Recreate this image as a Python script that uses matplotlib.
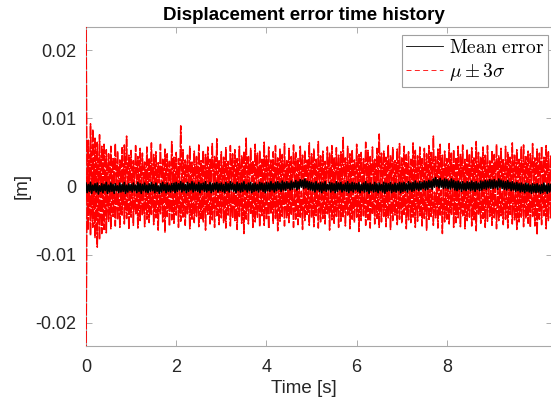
import numpy as np
import matplotlib
matplotlib.use("Agg")
import matplotlib.pyplot as plt

plt.rcParams["font.family"] = ["Liberation Sans", "DejaVu Sans"]
plt.rcParams["mathtext.fontset"] = "cm"

# Data (values in mm; one peak + one trough per 0.05 s)
dt = 0.05

upper_peaks = [
    25.0, 6.8, 9.2, 8.4, 7.1, 6.5, 7.6, 5.9, 6.2, 5.4,
    4.8, 5.9, 4.1, 6.3, 5.2, 3.9, 5.7, 6.1, 7.4, 4.6,
    5.3, 3.8, 6.0, 4.4, 5.6, 4.9, 3.6, 5.8, 4.2, 6.4,
    4.7, 5.1, 3.5, 6.2, 4.0, 5.5, 4.8, 3.7, 6.6, 4.3,
    5.0, 4.1, 8.9, 5.4, 3.9, 4.6, 5.9, 3.6, 5.2, 4.4,
    6.1, 3.8, 5.3, 4.7, 5.8, 4.0, 6.3, 4.5, 7.0, 3.9,
    5.1, 4.3, 5.7, 3.7, 6.0, 4.8, 5.4, 4.1, 5.9, 4.6,
    5.2, 7.1, 4.4, 5.6, 3.8, 6.2, 4.9, 5.3, 4.0, 6.5,
    4.5, 5.8, 3.9, 5.1, 6.0, 4.2, 5.5, 4.7, 6.3, 3.8,
    5.6, 4.4, 6.1, 5.0, 4.1, 5.9, 4.6, 5.3, 3.9, 6.4,
    4.8, 5.5, 4.0, 6.6, 4.5, 5.2, 3.7, 5.8, 4.9, 6.0,
    4.3, 5.7, 4.6, 5.1, 7.2, 4.2, 5.9, 4.8, 5.4, 3.9,
    6.2, 4.7, 5.0, 4.1, 6.5, 5.3, 4.4, 5.8, 4.0, 5.6,
    7.7, 4.9, 5.2, 4.3, 6.1, 4.6, 5.7, 3.8, 5.5, 6.3,
    4.2, 5.9, 4.7, 5.1, 4.0, 6.4, 5.3, 4.5, 5.8, 4.1,
    5.6, 4.8, 6.0, 5.0, 7.4, 4.4, 5.5, 6.2, 4.6, 5.2,
    4.1, 6.3, 4.9, 5.4, 4.3, 5.9, 4.7, 6.1, 4.0, 5.5,
    4.8, 5.7, 4.2, 6.6, 5.0, 4.4, 5.8, 4.6, 6.0, 3.9,
    5.3, 4.7, 6.2, 4.5, 5.6, 4.1, 5.9, 5.0, 4.3, 6.4,
    4.6, 5.4, 4.0, 5.8, 6.1, 4.4, 5.2, 4.8, 6.3, 4.2,
    5.5, 4.9, 5.9, 4.3, 6.0, 5.1, 4.6, 5.7, 7.2, 4.8,
]
upper_troughs = [
    -1.8, -2.6, -1.2, -3.1, -0.9, -2.2, -1.6, -0.4, -2.4, -1.1,
    -0.6, -1.7, 0.3, -1.3, -0.8, 0.5, -1.9, -0.2, -1.0, 0.6,
    -1.4, -0.3, 0.4, -1.6, -0.7, 0.2, -1.2, -0.5, 0.7, -1.8,
    -0.1, -1.1, 0.5, -0.9, -1.5, 0.1, -0.6, -1.3, 0.4, -0.8,
    -1.7, 0.3, -0.4, -1.0, 0.6, -1.4, -0.2, -0.9, 0.2, -1.6,
    -0.5, 0.4, -1.2, -0.3, -1.8, 0.5, -0.7, -1.1, 0.1, -0.6,
    -1.5, 0.3, -0.8, -1.3, 0.6, -0.4, -1.0, 0.2, -1.7, -0.1,
    0.4, -1.2, -0.5, 0.7, -1.4, -0.2, -0.9, 0.3, -1.6, -0.6,
    0.5, -1.1, -0.3, -1.5, 0.2, -0.8, 0.6, -1.3, -0.4, 0.1,
    -1.7, -0.5, 0.4, -1.0, -0.2, 0.7, -1.4, -0.7, 0.3, -1.2,
    -0.1, 0.5, -1.6, -0.6, 0.2, -1.1, -0.3, 0.6, -0.9, -1.5,
    0.3, -0.4, -1.2, 0.1, -0.8, 0.5, -1.4, -0.2, 0.4, -1.0,
    -0.6, 0.7, -1.3, -0.1, 0.3, -1.7, -0.5, 0.2, -0.9, 0.6,
    -1.1, -0.3, 0.4, -1.5, -0.7, 0.1, -1.0, 0.5, -0.4, -1.3,
    0.2, -0.8, 0.6, -1.2, -0.2, 0.3, -1.6, -0.5, 0.7, -0.9,
    -0.1, -1.4, 0.4, -0.6, 0.8, -1.1, -0.3, 0.5, -1.2, 0.2,
    -0.7, 0.6, -1.5, -0.2, 0.3, -0.9, 0.7, -1.3, -0.4, 0.1,
    -1.0, 0.4, -0.6, -1.4, 0.5, -0.3, 0.2, -1.1, -0.5, 0.6,
    -1.6, -0.1, 0.3, -0.8, 0.7, -1.2, -0.4, 0.1, -1.5, -0.6,
    0.4, -0.9, 0.2, -1.3, -0.2, 0.6, -1.0, -0.5, 0.3, -1.4,
    -0.7, 0.1, -1.1, 0.5, -0.3, -1.6, 0.2, -0.8, 0.4, -1.2,
]
lower_peaks = [
    -25.0, -6.4, -7.2, -6.0, -7.5, -8.9, -7.8, -6.9, -6.3, -6.8,
    -5.1, -6.2, -4.4, -5.8, -4.9, -6.0, -4.2, -5.5, -4.7, -6.3,
    -4.5, -5.7, -4.0, -6.1, -5.0, -4.3, -5.9, -4.8, -5.3, -4.1,
    -5.6, -4.6, -6.4, -4.0, -5.2, -6.7, -4.4, -5.8, -4.9, -5.4,
    -4.2, -6.0, -5.1, -4.5, -5.7, -4.0, -6.2, -4.8, -5.3, -4.4,
    -5.9, -4.7, -5.2, -6.4, -4.1, -5.5, -4.9, -6.0, -4.3, -5.6,
    -4.6, -5.3, -6.1, -4.2, -5.8, -4.7, -5.0, -6.3, -4.4, -5.4,
    -6.9, -4.8, -5.5, -4.1, -6.0, -5.2, -4.5, -5.9, -4.3, -5.7,
    -4.9, -6.2, -4.0, -5.4, -4.7, -6.5, -5.1, -4.4, -5.8, -4.6,
    -5.3, -4.2, -6.0, -4.8, -5.6, -4.5, -6.3, -5.0, -4.1, -5.7,
    -4.6, -5.9, -4.3, -6.1, -5.2, -4.7, -5.5, -4.0, -6.4, -4.9,
    -5.4, -4.4, -6.0, -5.1, -4.6, -5.8, -4.2, -6.2, -4.8, -5.3,
    -4.5, -6.6, -5.0, -4.3, -5.7, -4.9, -6.1, -4.1, -5.5, -4.7,
    -6.0, -5.2, -4.4, -5.9, -4.6, -6.3, -5.0, -4.2, -5.6, -4.8,
    -5.4, -4.1, -6.2, -4.9, -5.3, -4.5, -6.0, -5.1, -4.3, -5.8,
    -4.7, -6.4, -5.0, -4.4, -5.7, -4.6, -6.1, -4.2, -6.9, -5.2,
    -4.8, -5.5, -4.1, -6.0, -5.3, -4.6, -5.9, -4.3, -6.2, -5.0,
    -4.5, -5.8, -4.9, -6.5, -4.2, -5.4, -4.7, -6.0, -5.1, -4.4,
    -5.7, -4.6, -6.2, -5.0, -4.3, -5.6, -4.8, -6.1, -4.1, -5.5,
    -4.9, -6.3, -5.2, -4.5, -5.9, -4.7, -5.4, -6.0, -4.4, -5.8,
    -7.1, -4.8, -5.6, -4.3, -6.2, -5.0, -4.6, -5.7, -4.9, -6.1,
]
lower_troughs = [
    1.4, 2.3, 1.0, 2.7, 0.8, 1.9, 1.2, 0.5, 2.1, 0.9,
    0.4, 1.6, -0.3, 1.2, 0.7, -0.5, 1.8, 0.2, 1.0, -0.6,
    1.3, 0.3, -0.4, 1.5, 0.6, -0.2, 1.1, 0.4, -0.7, 1.7,
    0.1, 1.0, -0.5, 0.8, 1.4, -0.1, 0.5, 1.2, -0.4, 0.7,
    1.6, -0.3, 0.3, 0.9, -0.6, 1.3, 0.2, 0.8, -0.2, 1.5,
    0.4, -0.4, 1.1, 0.2, 1.7, -0.5, 0.6, 1.0, -0.1, 0.5,
    1.4, -0.3, 0.7, 1.2, -0.6, 0.3, 0.9, -0.2, 1.6, 0.0,
    -0.4, 1.1, 0.4, -0.7, 1.3, 0.1, 0.8, -0.3, 1.5, 0.5,
    -0.5, 1.0, 0.2, 1.4, -0.2, 0.7, -0.6, 1.2, 0.3, -0.1,
    1.6, 0.4, -0.4, 0.9, 0.1, -0.7, 1.3, 0.6, -0.3, 1.1,
    0.0, -0.5, 1.5, 0.5, -0.2, 1.0, 0.2, -0.6, 0.8, 1.4,
    -0.3, 0.3, 1.1, -0.1, 0.7, -0.5, 1.3, 0.1, -0.4, 0.9,
    0.5, -0.7, 1.2, 0.0, -0.3, 1.6, 0.4, -0.2, 0.8, -0.6,
    1.0, 0.2, -0.4, 1.4, 0.6, -0.1, 0.9, -0.5, 0.3, 1.2,
    -0.2, 0.7, -0.6, 1.1, 0.1, -0.3, 1.5, 0.4, -0.7, 0.8,
    0.0, 1.3, -0.4, 0.5, -0.8, 1.0, 0.2, -0.5, 1.1, -0.2,
    0.6, -0.6, 1.4, 0.1, -0.3, 0.8, -0.7, 1.2, 0.3, -0.1,
    0.9, -0.4, 0.5, 1.3, -0.5, 0.2, -0.2, 1.0, 0.4, -0.6,
    1.5, 0.0, -0.3, 0.7, -0.7, 1.1, 0.3, -0.1, 1.4, 0.5,
    -0.4, 0.8, -0.2, 1.2, 0.1, -0.6, 0.9, 0.4, -0.3, 1.3,
    0.6, -0.1, 1.0, -0.5, 0.2, 1.5, -0.2, 0.7, -0.4, 1.1,
]
mean_peaks = [
    0.5, 0.3, 0.6, 0.2, 0.4, 0.5, 0.1, 0.4, 0.3, 0.6,
    0.2, 0.5, 0.3, 0.4, 0.1, 0.5, 0.3, 0.6, 0.2, 0.4,
    0.3, 0.5, 0.2, 0.6, 0.4, 0.3, 0.5, 0.2, 0.4, 0.6,
    0.3, 0.5, 0.1, 0.4, 0.6, 0.3, 0.5, 0.2, 0.4, 0.5,
    0.6, 0.4, 0.7, 0.5, 0.3, 0.6, 0.4, 0.7, 0.5, 0.3,
    0.6, 0.4, 0.5, 0.7, 0.3, 0.6, 0.4, 0.5, 0.6, 0.4,
    0.5, 0.3, 0.6, 0.4, 0.7, 0.5, 0.3, 0.6, 0.4, 0.5,
    0.7, 0.3, 0.5, 0.6, 0.4, 0.5, 0.3, 0.6, 0.5, 0.4,
    0.6, 0.5, 0.7, 0.4, 0.6, 0.7, 0.5, 0.8, 0.6, 0.7,
    0.5, 0.8, 0.6, 0.9, 0.7, 1.0, 0.9, 1.1, 0.8, 0.7,
    0.6, 0.5, 0.7, 0.4, 0.6, 0.5, 0.7, 0.3, 0.6, 0.5,
    0.4, 0.7, 0.5, 0.6, 0.3, 0.5, 0.7, 0.4, 0.6, 0.5,
    0.4, 0.6, 0.3, 0.5, 0.7, 0.4, 0.5, 0.3, 0.6, 0.4,
    0.5, 0.3, 0.6, 0.5, 0.4, 0.6, 0.3, 0.5, 0.4, 0.6,
    0.5, 0.6, 0.4, 0.7, 0.5, 0.6, 0.8, 0.5, 0.7, 0.6,
    0.8, 0.7, 0.9, 0.8, 1.1, 1.3, 1.0, 1.2, 0.9, 1.1,
    1.0, 0.8, 1.1, 0.9, 0.7, 0.8, 0.6, 0.7, 0.5, 0.7,
    0.6, 0.8, 0.6, 0.7, 0.5, 0.8, 0.7, 0.9, 0.8, 1.0,
    0.9, 1.0, 0.8, 1.1, 0.9, 0.8, 0.7, 0.9, 0.6, 0.7,
    0.5, 0.6, 0.4, 0.5, 0.3, 0.5, 0.4, 0.2, 0.4, 0.3,
    0.4, 0.2, 0.3, 0.5, 0.2, 0.4, 0.3, 0.5, 0.2, 0.4,
]
mean_troughs = [
    -0.9, -0.7, -1.0, -0.6, -0.8, -1.1, -0.7, -0.9, -0.6, -1.0,
    -0.8, -0.7, -1.0, -0.6, -0.9, -0.8, -0.7, -1.0, -0.8, -0.6,
    -0.8, -0.6, -0.9, -0.7, -1.0, -0.6, -0.8, -0.9, -0.7, -0.6,
    -0.9, -0.7, -1.0, -0.8, -0.6, -0.9, -0.7, -0.8, -0.6, -0.9,
    -0.7, -0.5, -0.8, -0.6, -0.9, -0.7, -0.5, -0.8, -0.6, -0.7,
    -0.9, -0.5, -0.7, -0.8, -0.6, -0.9, -0.7, -0.5, -0.8, -0.6,
    -0.7, -0.9, -0.6, -0.8, -0.5, -0.7, -0.9, -0.6, -0.8, -0.7,
    -0.5, -0.8, -0.6, -0.9, -0.7, -0.6, -0.8, -0.5, -0.7, -0.9,
    -0.6, -0.7, -0.5, -0.8, -0.6, -0.4, -0.7, -0.5, -0.6, -0.3,
    -0.5, -0.4, -0.2, -0.5, -0.3, -0.1, -0.3, -0.2, -0.4, -0.5,
    -0.6, -0.8, -0.5, -0.7, -0.9, -0.6, -0.7, -0.5, -0.8, -0.6,
    -0.9, -0.7, -0.5, -0.8, -0.6, -0.7, -0.9, -0.6, -0.8, -0.5,
    -0.7, -0.9, -0.6, -0.8, -0.7, -1.0, -0.6, -0.8, -0.7, -0.9,
    -0.6, -0.8, -1.0, -0.7, -0.6, -0.9, -0.7, -0.8, -0.6, -0.9,
    -0.7, -0.6, -0.8, -0.5, -0.7, -0.6, -0.4, -0.6, -0.5, -0.3,
    -0.5, -0.4, -0.2, -0.4, -0.1, 0.0, -0.2, -0.1, -0.3, -0.2,
    -0.3, -0.4, -0.2, -0.5, -0.6, -0.4, -0.7, -0.5, -0.6, -0.4,
    -0.6, -0.5, -0.7, -0.4, -0.6, -0.5, -0.3, -0.4, -0.2, -0.3,
    -0.3, -0.2, -0.4, -0.1, -0.3, -0.4, -0.5, -0.3, -0.6, -0.5,
    -0.7, -0.6, -0.8, -0.7, -0.9, -0.7, -0.8, -1.0, -0.8, -0.9,
    -0.8, -1.0, -0.9, -0.7, -1.0, -0.8, -0.9, -0.7, -1.0, -0.8,
]


def zigzag(peaks, troughs):
    # alternate peak / trough samples, half a step apart
    t_p = np.arange(len(peaks)) * dt
    t = np.column_stack([t_p, t_p + dt / 2]).ravel()
    y = np.column_stack([peaks, troughs]).ravel() * 1e-3
    return t, y


t_up, y_up = zigzag(upper_peaks, upper_troughs)
t_lo, y_lo = zigzag(lower_peaks, lower_troughs)
t_m, y_m = zigzag(mean_peaks, mean_troughs)

fig = plt.figure(figsize=(5.51, 4.08), dpi=100)
W, H = 551, 408
ax = fig.add_axes([86 / W, (H - 346) / H, (552 - 86) / W, (346 - 27) / H])

dash = (0, (8, 1))
ax.plot(t_up, y_up, color="r", lw=1.1, linestyle=dash, zorder=3)
ax.plot(t_lo, y_lo, color="r", lw=1.1, linestyle=dash, zorder=3)
ax.plot(t_m, y_m, color="k", lw=1.2, zorder=4)

ax.set_xlim(0, 10.33)
ax.set_ylim(-0.0234, 0.0234)
ax.set_xticks([0, 2, 4, 6, 8])
ax.set_yticks([-0.02, -0.01, 0, 0.01, 0.02])
ax.set_yticklabels(["-0.02", "-0.01", "0", "0.01", "0.02"])
ax.tick_params(direction="in", length=4, width=0.6, colors="#a0a0a0",
               labelcolor="#262626", labelsize=13, top=True, right=True)
ax.tick_params(axis="x", pad=9)
ax.tick_params(axis="y", pad=7)
for s in ax.spines.values():
    s.set_color("#a8a8a8")
    s.set_linewidth(0.8)

fig.text(304 / W, 1 - 20 / H, "Displacement error time history",
         ha="center", va="baseline", fontsize=13.5, fontweight="bold")
fig.text(304 / W, 1 - 393 / H, "Time [s]", ha="center", va="baseline",
         fontsize=13.5, color="#262626")
fig.text(22 / W, 1 - 186 / H, "[m]", ha="center", va="center",
         rotation=90, fontsize=13.5, color="#262626")

h1, = ax.plot([], [], color="k", lw=0.6)
h2, = ax.plot([], [], color="r", lw=0.6, linestyle=(0, (6, 4)))
leg = ax.legend([h1, h2], [r"$\mathrm{Mean\ error}$", r"$\mu \pm 3\sigma$"],
                loc="upper right", bbox_to_anchor=(548 / W, 1 - 35 / H),
                bbox_transform=fig.transFigure, borderaxespad=0,
                fontsize=14, fancybox=False, framealpha=1, edgecolor="#a0a0a0",
                handlelength=1.9, handletextpad=0.3, borderpad=0.2,
                labelspacing=0.2)
leg.get_frame().set_linewidth(0.8)
leg.set_zorder(10)

fig.savefig("out.png", dpi=100)
